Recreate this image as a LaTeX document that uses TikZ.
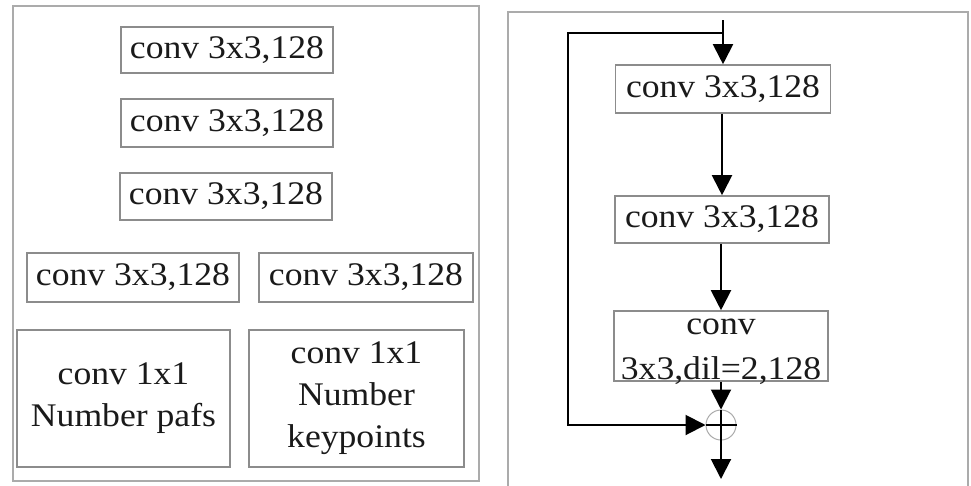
\documentclass[tikz,border=0pt]{standalone}
\usepackage{fontspec}
\setmainfont[FakeStretch=1.08]{Liberation Serif}
\usetikzlibrary{arrows.meta}
\definecolor{boxgray}{HTML}{8C8C8C}
\definecolor{panelgray}{HTML}{ABABAB}
\definecolor{inkdark}{HTML}{1A1A1A}
\begin{document}
\begin{tikzpicture}[x=1pt,y=-1pt,
  convbox/.style={draw=boxgray, line width=1.6pt, rectangle, inner sep=0pt,
    text=inkdark, align=center, font=\fontsize{33}{42}\selectfont},
  plainbox/.style={draw=boxgray, line width=1.6pt, rectangle, inner sep=0pt},
  labeltext/.style={inner sep=0pt, text=inkdark, align=center,
    font=\fontsize{33}{45}\selectfont},
  panel/.style={draw=panelgray, line width=1.6pt},
  flow/.style={draw=black, line width=2pt},
  flowarrow/.style={flow, -{Triangle[length=20pt,width=20pt]}}]
\useasboundingbox (0,0) rectangle (971,485);
\fill[white] (0,0) rectangle (971,485);

% left panel: prediction heads
\draw[panel] (13,6) rectangle (479,481);
\node[convbox, minimum width=212pt, minimum height=46pt] (l1) at (227,50) {conv 3x3,128};
\node[convbox, minimum width=212pt, minimum height=48pt] (l2) at (227,123) {conv 3x3,128};
\node[convbox, minimum width=212pt, minimum height=47pt] (l3) at (226,196.5) {conv 3x3,128};
\node[convbox, minimum width=212pt, minimum height=49pt] (l4) at (133,277.5) {conv 3x3,128};
\node[convbox, minimum width=214pt, minimum height=49pt] (l5) at (366,277.5) {conv 3x3,128};
\node[convbox, minimum width=213pt, minimum height=137pt] (l6) at (123.5,398.5) {conv 1x1\\Number pafs};
\node[convbox, minimum width=215pt, minimum height=137pt] (l7) at (356.5,398.5) {conv 1x1\\Number\\keypoints};

% right panel: residual block with dilated convolution
\draw[panel] (508,490) -- (508,12) -- (968,12) -- (968,490);
\node[convbox, minimum width=215pt, minimum height=48pt] (r1) at (723,89) {conv 3x3,128};
\node[convbox, minimum width=214pt, minimum height=47pt] (r2) at (722,219.5) {conv 3x3,128};
\node[plainbox, minimum width=214pt, minimum height=70pt] (r3) at (721,346) {};
\node[labeltext] (r3t) at (721,352) {conv\\3x3,dil=2,128};
\node[draw=panelgray, line width=1pt, circle, minimum size=30pt, inner sep=0pt] (sum) at (721,425) {};

\coordinate (in) at (723,20);
\coordinate (split) at (723,33);
\coordinate (loop) at (568,33);
\coordinate (out) at (721,479);

\draw[flowarrow] (in) -- (r1.north);
\draw[flowarrow] (r1.south -| r2.north) -- (r2.north);
\draw[flowarrow] (r2.south -| r3.north) -- (r3.north);
\draw[flowarrow] (r3.south -| sum.north) -- (sum.north);
\draw[flowarrow] (split) -- (loop) |- (sum.west);
\draw[flow] (sum.west) -- (sum.east);
\draw[flowarrow] (sum.north) -- (out);
\end{tikzpicture}
\end{document}
